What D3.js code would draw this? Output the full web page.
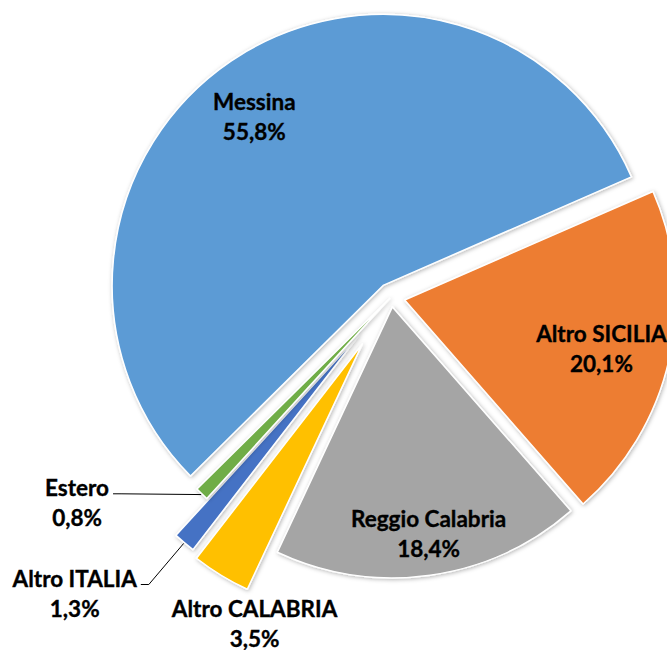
<!DOCTYPE html>
<html>
<head>
<meta charset="utf-8">
<script src="https://cdn.jsdelivr.net/npm/d3@7"></script>
<style>
  body { margin: 0; background: #fff; }
  svg { display: block; }
</style>
</head>
<body>
<div id="chart"></div>
<script>
// --- Data ---
const categories = ["Messina", "Altro SICILIA", "Reggio Calabria", "Altro CALABRIA", "Altro ITALIA", "Estero"];
const shares = [55.8, 20.1, 18.4, 3.5, 1.3, 0.8];

// --- Style ---
const colors = ["#5B9BD5", "#ED7D31", "#A5A5A5", "#FFC000", "#4472C4", "#70AD47"];
const explode = [14, 14, 10, 55, 50, 2]; // px each slice is pulled out
// label placement: angle shift (deg) and radius factor, relative to the slice origin
const labelShift = [-3.4, 1.6, -1, -10.4, 7.6, 12.9];
const labelRadius = [0.78, 0.749, 0.85, 1.108, 1.418, 1.379];
const hasLeader = [false, false, false, false, true, true];

const width = 667;
const height = 650;
const cx = 391;
const cy = 297;
const radius = 271;
const startDeg = 225.3;
const rad = (d) => (d * Math.PI) / 180;

const svg = d3
  .select("#chart")
  .append("svg")
  .attr("width", width)
  .attr("height", height);

const defs = svg.append("defs");
const shadow = defs
  .append("filter")
  .attr("id", "shadow")
  .attr("x", "-20%")
  .attr("y", "-20%")
  .attr("width", "140%")
  .attr("height", "140%");
shadow
  .append("feDropShadow")
  .attr("dx", 1)
  .attr("dy", 1)
  .attr("stdDeviation", 2.2)
  .attr("flood-color", "#000")
  .attr("flood-opacity", 0.3);

const pie = d3
  .pie()
  .sort(null)
  .value((d) => d)
  .startAngle(rad(startDeg))
  .endAngle(rad(startDeg) + 2 * Math.PI);

const arcs = pie(shares);
const arc = d3.arc().innerRadius(0).outerRadius(radius);

const dirOf = (a) => [Math.sin(a), -Math.cos(a)];

const slices = arcs.map((d, i) => {
  const mid = (d.startAngle + d.endAngle) / 2;
  const [ux, uy] = dirOf(mid);
  return { d, i, mid, ox: cx + explode[i] * ux, oy: cy + explode[i] * uy };
});

const fmt = d3.formatLocale({ decimal: ",", thousands: ".", grouping: [3], currency: ["", "€"] }).format(".1f");

svg
  .append("g")
  .selectAll("path")
  .data(slices)
  .join("path")
  .attr("transform", (s) => `translate(${s.ox},${s.oy})`)
  .attr("d", (s) => arc(s.d))
  .attr("fill", (s) => colors[s.i])
  .attr("stroke", "#fff")
  .attr("stroke-width", 1.5)
  .attr("stroke-linejoin", "round")
  .attr("filter", "url(#shadow)");

// --- Labels ---
const labelG = svg.append("g")
  .attr("font-family", "Lato, 'Open Sans', sans-serif")
  .attr("font-weight", "bold")
  .attr("font-size", 22.5)
  .attr("fill", "#000")
  .attr("stroke", "#000")
  .attr("stroke-width", 0.35)
  .attr("text-anchor", "middle");

slices.forEach((s) => {
  const a = s.mid + rad(labelShift[s.i]);
  const [ux, uy] = dirOf(a);
  const lx = s.ox + labelRadius[s.i] * radius * ux;
  const ly = s.oy + labelRadius[s.i] * radius * uy;

  const t = labelG.append("text");
  const line1 = t.append("tspan").attr("x", lx).attr("y", ly - 7.5).text(categories[s.i]);
  t.append("tspan").attr("x", lx).attr("y", ly + 22.5).text(fmt(shares[s.i]) + "%");

  if (hasLeader[s.i]) {
    const w = line1.node().getComputedTextLength();
    const x0 = lx + w / 2 + 4;
    const y0 = ly - 9.5;
    const [mx, my] = dirOf(s.mid);
    const px = s.ox + (radius + 1) * mx;
    const py = s.oy + (radius + 1) * my;
    svg
      .append("path")
      .attr("d", `M${x0},${y0}H${x0 + 8}L${px},${py}`)
      .attr("fill", "none")
      .attr("stroke", "#000")
      .attr("stroke-width", 1);
  }
});
</script>
</body>
</html>
